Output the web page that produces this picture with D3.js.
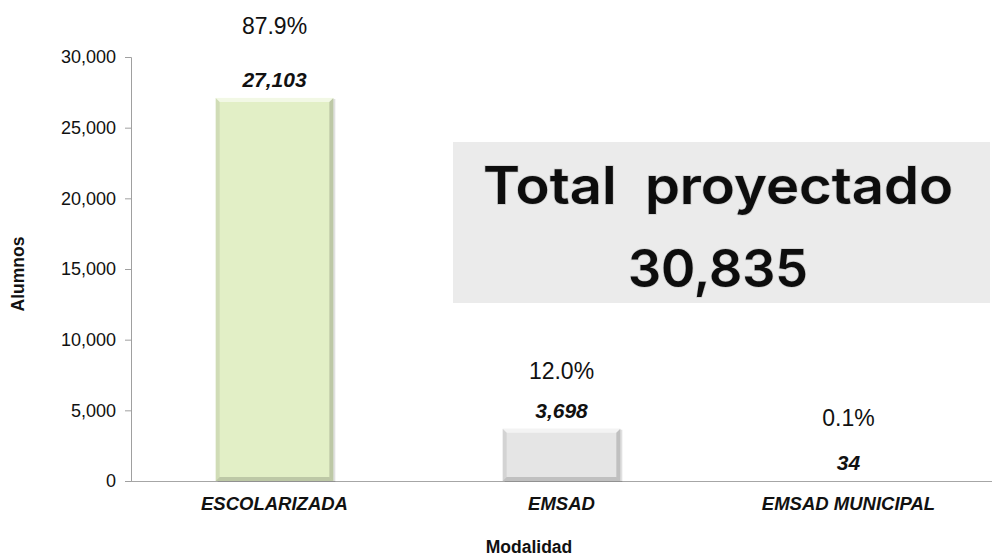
<!DOCTYPE html>
<html>
<head>
<meta charset="utf-8">
<script src="https://cdn.jsdelivr.net/npm/d3@7"></script>
<style>
  body { margin: 0; background: #fff; }
  svg text { font-family: Arial, "Liberation Sans", sans-serif; }
</style>
</head>
<body>
<svg id="chart" width="995" height="558"></svg>
<script>
// chart values
var categories = ['ESCOLARIZADA', 'EMSAD', 'EMSAD MUNICIPAL'];
var alumnos = [27103, 3698, 34];
var shares = ['87.9%', '12.0%', '0.1%'];
var barColours = ['#e2efc6', '#e5e5e5', '#e5e5e5'];
var yTicks = [0, 5000, 10000, 15000, 20000, 25000, 30000];
var totalLines = ['Total  proyectado', '30,835'];

var svg = d3.select('#chart');
var margin = {top: 57, left: 131, right: 3, bottom: 77};
var width = 995 - margin.left - margin.right;
var height = 558 - margin.top - margin.bottom;

var x = d3.scaleBand().domain(categories).range([0, width]).paddingInner(0.59).paddingOuter(0.295);
var y = d3.scaleLinear().domain([0, 30000]).range([height, 0]);

var g = svg.append('g').attr('transform', 'translate(' + margin.left + ',' + margin.top + ')');

// total box (annotation, placed in pixels)
var box = svg.append('g');
box.append('rect')
  .attr('x', 453).attr('y', 142)
  .attr('width', 990 - 453).attr('height', 303 - 142)
  .attr('fill', '#ebebeb');
// width each line should take
var lineWidths = [470, 180];
var lineBase = [204, 287];
totalLines.forEach(function(line, i) {
  box.append('text')
    .attr('x', 718)
    .attr('y', lineBase[i])
    .attr('text-anchor', 'middle')
    .attr('textLength', lineWidths[i])
    .attr('lengthAdjust', 'spacingAndGlyphs')
    .style('white-space', 'pre')
    .style('font-family', 'Inter, "Noto Sans", sans-serif')
    .style('font-weight', 600)
    .style('font-size', '52px')
    .style('fill', '#0d0d0d')
    .style('paint-order', 'stroke')
    .style('stroke', '#cfcfcf').style('stroke-width', 1.5)
    .text(line);
});

// y axis
var yAxis = d3.axisLeft(y).tickValues(yTicks).tickSize(6).tickPadding(9).tickFormat(d3.format(','));
var yg = g.append('g').call(yAxis);
yg.select('.domain').attr('stroke', '#a0a0a0').attr('d', 'M-6,0.5H0.5V' + (height + 0.5));
yg.selectAll('.tick line').attr('stroke', '#a0a0a0');
yg.selectAll('.tick text').style('font-size', '18px').style('fill', '#111');

// x axis line
g.append('line')
  .attr('x1', 0).attr('x2', width).attr('y1', height + 0.5).attr('y2', height + 0.5)
  .attr('stroke', '#a6a6a6');

// bars with a small bevel
var bev = 4;
var bars = g.selectAll('.bar').data(alumnos).enter().append('g').attr('class', 'bar');
bars.each(function(d, i) {
  var b = d3.select(this);
  var x0 = x(categories[i]), w = x.bandwidth();
  var y0 = y(d), h = height - y(d);
  if (h < 1) return;
  var e = Math.min(bev, h / 2);
  // soft shadow
  b.append('rect').attr('x', x0 + 2).attr('y', y0 + 1).attr('width', w).attr('height', h)
    .attr('fill', '#000').attr('opacity', 0.12);
  b.append('rect').attr('x', x0).attr('y', y0).attr('width', w).attr('height', h)
    .attr('fill', barColours[i]);
  // top edge lighter
  b.append('path')
    .attr('d', 'M' + x0 + ',' + y0 + 'H' + (x0 + w) + 'L' + (x0 + w - e) + ',' + (y0 + e) + 'H' + (x0 + e) + 'Z')
    .attr('fill', '#fff').attr('opacity', 0.55);
  // left edge
  b.append('path')
    .attr('d', 'M' + x0 + ',' + y0 + 'L' + (x0 + e) + ',' + (y0 + e) + 'V' + (y0 + h - e) + 'L' + x0 + ',' + (y0 + h) + 'Z')
    .attr('fill', '#000').attr('opacity', 0.08);
  // right edge
  b.append('path')
    .attr('d', 'M' + (x0 + w) + ',' + y0 + 'L' + (x0 + w - e) + ',' + (y0 + e) + 'V' + (y0 + h - e) + 'L' + (x0 + w) + ',' + (y0 + h) + 'Z')
    .attr('fill', '#000').attr('opacity', 0.16);
  // bottom edge darker
  b.append('path')
    .attr('d', 'M' + x0 + ',' + (y0 + h) + 'H' + (x0 + w) + 'L' + (x0 + w - e) + ',' + (y0 + h - e) + 'H' + (x0 + e) + 'Z')
    .attr('fill', '#000').attr('opacity', 0.16);
});

// value labels
g.selectAll('.val').data(alumnos).enter().append('text')
  .attr('x', function(d, i) { return x(categories[i]) + x.bandwidth() / 2; })
  .attr('y', function(d) { return y(d) - 11; })
  .attr('text-anchor', 'middle')
  .style('font-size', '21px').style('font-weight', 'bold').style('font-style', 'italic')
  .style('fill', '#111')
  .text(function(d) { return d3.format(',')(d); });

// share labels, lifted above each bar by hand like in the original
var shareLift = [64, 50, 55];
g.selectAll('.share').data(shares).enter().append('text')
  .attr('x', function(d, i) { return x(categories[i]) + x.bandwidth() / 2; })
  .attr('y', function(d, i) { return y(alumnos[i]) - shareLift[i]; })
  .attr('text-anchor', 'middle')
  .style('font-size', '23px').style('fill', '#111')
  .text(function(d) { return d; });

// category labels
g.selectAll('.cat').data(categories).enter().append('text')
  .attr('x', function(d) { return x(d) + x.bandwidth() / 2; })
  .attr('y', height + 29)
  .attr('text-anchor', 'middle')
  .style('font-size', '18.5px').style('font-weight', 'bold').style('font-style', 'italic')
  .style('fill', '#111')
  .text(function(d) { return d; });

// axis titles
svg.append('text')
  .attr('transform', 'translate(24,274) rotate(-90)')
  .attr('text-anchor', 'middle')
  .style('font-size', '17.5px').style('font-weight', 'bold').style('fill', '#111')
  .text('Alumnos');
svg.append('text')
  .attr('x', 529).attr('y', 553)
  .attr('text-anchor', 'middle')
  .style('font-size', '17.5px').style('font-weight', 'bold').style('fill', '#111')
  .text('Modalidad');
</script>
</body>
</html>
